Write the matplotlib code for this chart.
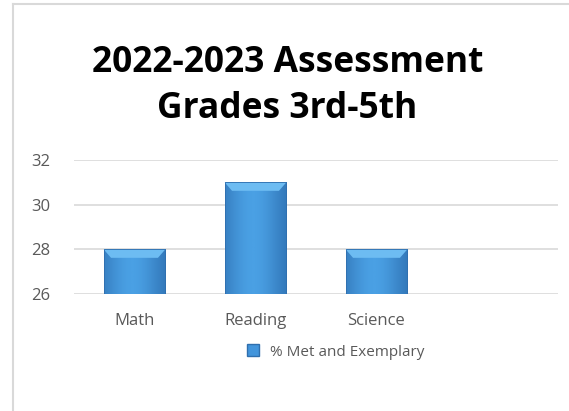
import numpy as np
import matplotlib.pyplot as plt
from matplotlib.patches import Polygon
from matplotlib.lines import Line2D

categories = ['Math', 'Reading', 'Science', '']
values = [28, 31, 28, np.nan]
series_name = '% Met and Exemplary'
title = '2022-2023 Assessment\nGrades 3rd-5th'

plt.rcParams['font.family'] = ['Open Sans', 'DejaVu Sans']

fig = plt.figure(figsize=(5.69, 4.11), dpi=100)
ax = fig.add_axes([74 / 569, 1 - 294 / 411, 484 / 569, 134 / 411])

x = np.arange(len(categories))
bars = ax.bar(x, values, width=0.51, color='#4295dc', edgecolor='#2f6fae',
              linewidth=0.6, zorder=3)

# soft bevel: horizontal gradient plus a light top edge
grad = np.linspace(0, 1, 64)
shade = np.exp(-((grad - 0.45) / 0.5) ** 2)
cmap = plt.matplotlib.colors.LinearSegmentedColormap.from_list('b', ['#2a69aa', '#4aa0e4'])
for b in bars:
    h = b.get_height()
    if np.isnan(h):
        continue
    x0, x1 = b.get_x(), b.get_x() + b.get_width()
    y0, y1 = 26, h
    im = ax.imshow(shade[None, :], extent=(x0, x1, y0, y1), aspect='auto', cmap=cmap,
                   vmin=0, vmax=1, zorder=3.5)
    im.set_clip_path(b)
    bw = b.get_width() * 0.12
    bh = 0.38
    ax.add_patch(Polygon([(x0, y1), (x1, y1), (x1 - bw, y1 - bh), (x0 + bw, y1 - bh)],
                         closed=True, color='#6dbcf2', zorder=4, lw=0))
    ax.add_patch(Polygon([(x0, y1), (x1, y1), (x1, y0), (x0, y0)], closed=True,
                         fill=False, edgecolor='#2f6fae', lw=0.6, zorder=4))

ax.set_xlim(-0.5, len(categories) - 0.5)
ax.set_ylim(26, 32)
ax.set_yticks([26, 28, 30, 32])
ax.set_xticks(x[:3])
ax.set_xticklabels(categories[:3])
ax.grid(axis='y', color='#d9d9d9', linewidth=1.2, zorder=0)
for s in ax.spines.values():
    s.set_visible(False)
ax.tick_params(length=0, labelsize=12, colors='#595959')
ax.tick_params(axis='x', pad=14)
ax.tick_params(axis='y', pad=17)

fig.text(0.505, 1 - 86 / 411, title, ha='center', va='center', fontsize=25.5,
         fontweight='bold', color='black', linespacing=1.35)

handle = Line2D([], [], marker='s', linestyle='none', markersize=8,
                markerfacecolor='#4295dc', markeredgecolor='#2f6fae')
fig.legend([handle], [series_name], loc='center', bbox_to_anchor=(331 / 569, 1 - 352 / 411),
           frameon=False, fontsize=11, handletextpad=0.1, labelcolor='#595959')

# chart frame (left and top)
fig.add_artist(Line2D([12.5 / 569, 12.5 / 569], [0, 1 - 4.5 / 411], color='#d9d9d9', lw=1.5))
fig.add_artist(Line2D([12.5 / 569, 1], [1 - 4.5 / 411, 1 - 4.5 / 411], color='#d9d9d9', lw=1.5))

fig.savefig('out.png', dpi=100, facecolor='white')
